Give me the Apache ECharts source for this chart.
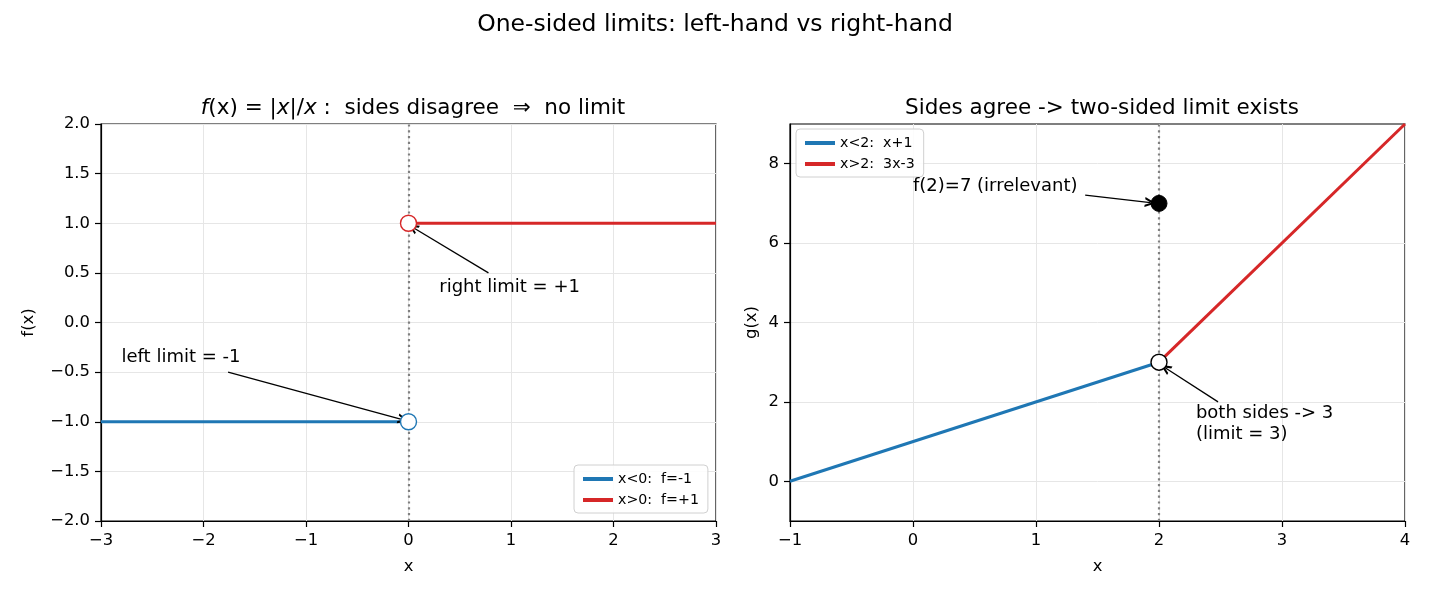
<!DOCTYPE html>
<html>
<head>
<meta charset="utf-8">
<script src="https://cdn.jsdelivr.net/npm/echarts@6/dist/echarts.min.js"></script>
<style>
  html, body { margin: 0; padding: 0; background: #fff; }
  #chart { width: 1430px; height: 598px; }
</style>
</head>
<body>
<div id="chart"></div>
<script>
// f(x) = |x|/x pieces
var fLeftX = [-3, -0.03], fLeftY = [-1, -1];
var fRightX = [0.07, 3], fRightY = [1, 1];
// g(x) pieces
var gLeftX = [-1, 2], gLeftY = [0, 3];
var gRightX = [2, 4], gRightY = [3, 9];
// special points
var fOpen = [[0, -1], [0, 1]];
var gOpen = [2, 3];
var gFilled = [2, 7];
// annotations: text anchor, arrow tail, arrow head
var annLeft = [
  { text: 'left limit = -1', at: [-2.8, -0.35], from: [-1.76, -0.5], to: [-0.05, -0.98] },
  { text: 'right limit = +1', at: [0.3, 0.35], from: [0.78, 0.5], to: [0.04, 0.96] }
];
var annRight = [
  { text: 'f(2)=7 (irrelevant)', at: [0, 7.42], from: [1.4, 7.21], to: [1.93, 7.02] },
  { text: 'both sides -> 3\n(limit = 3)', at: [2.3, 1.45], from: [2.48, 2.0], to: [2.05, 2.86] }
];
var fTicksY = [-2, 2, 0.5];
var gTicksY = [0, 2, 4, 6, 8];

var FONT = 'DejaVu Sans';
var BLUE = '#1f77b4', RED = '#d62728';
var chevron = 'path://M0,10 L5,0 L10,10 L7.8,10 L5,4.4 L2.2,10 Z';

function pairs(xs, ys) {
  return xs.map(function (x, i) { return [x, ys[i]]; });
}
function minus(v) { return String(v).replace('-', '\u2212'); }

function axisBase(name, gap, margin) {
  return {
    type: 'value',
    name: name,
    nameLocation: 'middle',
    nameGap: gap,
    nameTextStyle: { color: '#000', fontSize: 16.4, fontFamily: FONT },
    axisLine: { show: true, onZero: false, lineStyle: { color: '#000', width: 1.2 } },
    axisTick: { show: true, length: 6, lineStyle: { color: '#000', width: 1.2 } },
    axisLabel: { color: '#000', fontSize: 16.4, fontFamily: FONT, margin: margin },
    splitLine: { show: true, lineStyle: { color: '#e6e6e6', width: 1 } }
  };
}

function annSeries(anns, idx) {
  return {
    type: 'scatter', xAxisIndex: idx, yAxisIndex: idx, data: [], z: 10,
    markLine: {
      silent: true, symbol: ['none', chevron], symbolSize: [10, 11],
      lineStyle: { color: '#000', width: 1.3, type: 'solid' },
      label: { show: false },
      data: anns.map(function (a) {
        return [{ coord: a.from }, { coord: a.to }];
      })
    },
    markPoint: {
      silent: true, symbol: 'circle', symbolSize: 0,
      label: {
        show: true, position: 'right', distance: 0, color: '#000',
        fontSize: 18, fontFamily: FONT, lineHeight: 21,
        formatter: function (p) { return p.name; }
      },
      data: anns.map(function (a) { return { name: a.text, coord: a.at }; })
    }
  };
}

function vline(x, idx) {
  return {
    type: 'scatter', xAxisIndex: idx, yAxisIndex: idx, data: [], z: 20,
    markLine: {
      silent: true, symbol: 'none', label: { show: false },
      lineStyle: { color: '#808080', width: 2.2, type: [2.2, 3.6] },
      data: [{ xAxis: x }]
    }
  };
}

function legendBox(names, left, top) {
  return {
    data: names, orient: 'vertical', left: left, top: top,
    icon: 'rect', itemWidth: 30, itemHeight: 4, itemGap: 7, padding: [7, 9, 6, 9],
    borderColor: '#d0d0d0', borderWidth: 1, borderRadius: 4, backgroundColor: 'rgba(255,255,255,0.85)',
    textStyle: { fontSize: 14.2, color: '#000', fontFamily: FONT }
  };
}

var chart = echarts.init(document.getElementById('chart'), null, { renderer: 'canvas' });

var xL = axisBase('x', 38, 12);
xL.min = -3; xL.max = 3; xL.interval = 1; xL.gridIndex = 0;
xL.axisLabel.formatter = function (v) { return minus(v); };
var yL = axisBase('f(x)', 64, 11);
yL.min = fTicksY[0]; yL.max = fTicksY[1]; yL.interval = fTicksY[2]; yL.gridIndex = 0;
yL.axisLabel.formatter = function (v) { return minus(v.toFixed(1)); };
var xR = axisBase('x', 38, 12);
xR.min = -1; xR.max = 4; xR.interval = 1; xR.gridIndex = 1;
xR.axisLabel.formatter = function (v) { return minus(v); };
var yR = axisBase('g(x)', 30, 11);
yR.min = -1; yR.max = 9; yR.gridIndex = 1;
yR.axisLabel.customValues = gTicksY;
yR.axisTick.customValues = gTicksY;
yR.axisLabel.formatter = function (v) { return minus(v); };

var option = {
  backgroundColor: '#fff',
  animation: false,
  title: [
    { text: 'One-sided limits: left-hand vs right-hand', left: 'center', top: 8,
      textStyle: { fontSize: 23.5, fontWeight: 'normal', color: '#000', fontFamily: FONT } },
    { text: '{i|f}(x) = |{i|x}|/{i|x} :  sides disagree  \u21d2  no limit', left: 408, top: 92, textAlign: 'center',
      textStyle: { fontSize: 21.5, fontWeight: 'normal', color: '#000', fontFamily: FONT,
        rich: { i: { fontStyle: 'italic', fontSize: 21.5, fontFamily: FONT, color: '#000' } } } },
    { text: 'Sides agree -> two-sided limit exists', left: 1097, top: 92, textAlign: 'center',
      textStyle: { fontSize: 21.5, fontWeight: 'normal', color: '#000', fontFamily: FONT } }
  ],
  grid: [
    { left: 101, top: 124, width: 615, height: 397, show: true, borderColor: '#000', borderWidth: 1.2, backgroundColor: 'transparent' },
    { left: 790, top: 124, width: 615, height: 397, show: true, borderColor: '#000', borderWidth: 1.2, backgroundColor: 'transparent' }
  ],
  legend: [
    legendBox(['x<0:  f=-1', 'x>0:  f=+1'], 574, 465),
    legendBox(['x<2:  x+1', 'x>2:  3x-3'], 796, 129)
  ],
  xAxis: [xL, xR],
  yAxis: [yL, yR],
  series: [
    { name: 'x<0:  f=-1', type: 'line', xAxisIndex: 0, yAxisIndex: 0, data: pairs(fLeftX, fLeftY),
      showSymbol: false, color: BLUE, lineStyle: { width: 3, color: BLUE } },
    { name: 'x>0:  f=+1', type: 'line', xAxisIndex: 0, yAxisIndex: 0, data: pairs(fRightX, fRightY),
      showSymbol: false, color: RED, lineStyle: { width: 3, color: RED } },
    { type: 'scatter', xAxisIndex: 0, yAxisIndex: 0, z: 5, symbolSize: 16,
      data: [
        { value: fOpen[0], itemStyle: { color: '#fff', borderColor: BLUE, borderWidth: 1.4, opacity: 1 } },
        { value: fOpen[1], itemStyle: { color: '#fff', borderColor: RED, borderWidth: 1.4, opacity: 1 } }
      ] },
    vline(0, 0),
    annSeries(annLeft, 0),

    { name: 'x<2:  x+1', type: 'line', xAxisIndex: 1, yAxisIndex: 1, data: pairs(gLeftX, gLeftY),
      showSymbol: false, color: BLUE, lineStyle: { width: 3, color: BLUE } },
    { name: 'x>2:  3x-3', type: 'line', xAxisIndex: 1, yAxisIndex: 1, data: pairs(gRightX, gRightY),
      showSymbol: false, color: RED, lineStyle: { width: 3, color: RED } },
    { type: 'scatter', xAxisIndex: 1, yAxisIndex: 1, z: 5, symbolSize: 16,
      data: [
        { value: gOpen, itemStyle: { color: '#fff', borderColor: '#000', borderWidth: 1.4, opacity: 1 } },
        { value: gFilled, itemStyle: { color: '#000', borderColor: '#000', borderWidth: 1, opacity: 1 } }
      ] },
    vline(2, 1),
    annSeries(annRight, 1)
  ]
};

chart.setOption(option);
</script>
</body>
</html>
